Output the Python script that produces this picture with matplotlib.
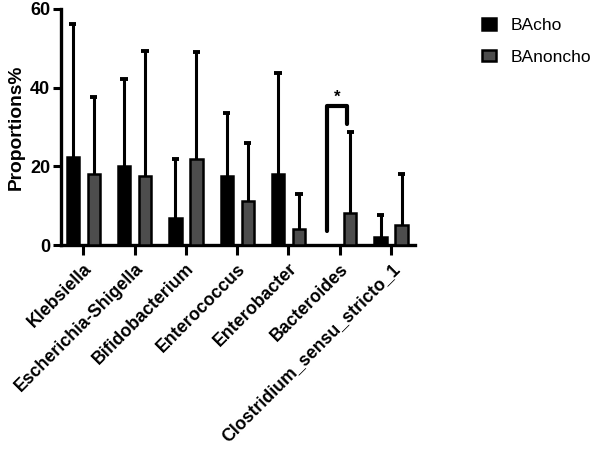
import matplotlib.pyplot as plt
import numpy as np
from matplotlib.patches import Patch

plt.rcParams['font.family'] = ['Liberation Sans', 'DejaVu Sans']

genera = ['Klebsiella', 'Escherichia-Shigella', 'Bifidobacterium', 'Enterococcus',
          'Enterobacter', 'Bacteroides', 'Clostridium_sensu_stricto_1']
bacho_mean = [22.4, 20.1, 7.0, 17.5, 18.0, 0.0, 2.0]
bacho_top = [56.1, 42.1, 21.9, 33.5, 43.8, 0.0, 7.6]
nonch_mean = [18.0, 17.5, 22.0, 11.2, 4.2, 8.1, 5.1]
nonch_top = [37.7, 49.4, 49.0, 26.0, 13.1, 28.8, 18.0]

fig = plt.figure(figsize=(6, 4.49), dpi=100)
ax = fig.add_axes([0.102, 0.454, 0.59, 0.526])

x = np.arange(len(genera))
w = 0.24
off = 0.205

def draw(xs, means, tops, color):
    ax.bar(xs, means, width=w, color=color, edgecolor='black', linewidth=1.8, zorder=3)
    for xi, m, t in zip(xs, means, tops):
        if t <= m:
            continue
        ax.plot([xi, xi], [m, t], color='black', lw=2.2, zorder=2)
        ax.plot([xi - 0.07, xi + 0.07], [t, t], color='black', lw=2.8, zorder=2,
                solid_capstyle='butt')

draw(x - off, bacho_mean, bacho_top, 'black')
draw(x + off, nonch_mean, nonch_top, '#4d4d4d')

# significance bracket on Bacteroides
bx0 = 5 - off - 0.05
bx1 = 5 + off - 0.07
ax.plot([bx0, bx0, bx1, bx1], [3.6, 35.4, 35.4, 30.8], color='black', lw=3,
        solid_joinstyle='round', solid_capstyle='round', zorder=4)
ax.text((bx0 + bx1) / 2, 35.6, '*', ha='center', va='bottom', fontsize=12, fontweight='bold')

ax.set_xlim(-0.43, 6.47)
ax.set_ylim(0, 60)
ax.set_yticks([0, 20, 40, 60])
ax.set_xticks(x)
ax.set_xticklabels(genera, rotation=45, ha='right', rotation_mode='anchor',
                   fontsize=12.8, fontweight='bold')
for lab in ax.get_yticklabels():
    lab.set_fontweight('bold')
    lab.set_fontsize(13)
ax.tick_params(axis='both', width=2.2, length=6, direction='out')
ax.tick_params(axis='x', length=7, pad=4)
ax.tick_params(axis='y', pad=2)
ax.set_ylabel('Proportions%', fontsize=13.8, fontweight='bold', labelpad=4)
for side in ['top', 'right']:
    ax.spines[side].set_visible(False)
for side in ['left', 'bottom']:
    ax.spines[side].set_linewidth(2.4)

handles = [Patch(facecolor='black', edgecolor='black', linewidth=1.8, label='BAcho'),
           Patch(facecolor='#4d4d4d', edgecolor='black', linewidth=1.8, label='BAnoncho')]
fig.legend(handles=handles, loc='upper left', bbox_to_anchor=(0.797, 0.967), frameon=False,
           fontsize=12.5, handlelength=0.8, handleheight=0.65, labelspacing=0.95,
           handletextpad=0.85, borderaxespad=0.0, borderpad=0.2)

fig.savefig('out.png', dpi=100)
